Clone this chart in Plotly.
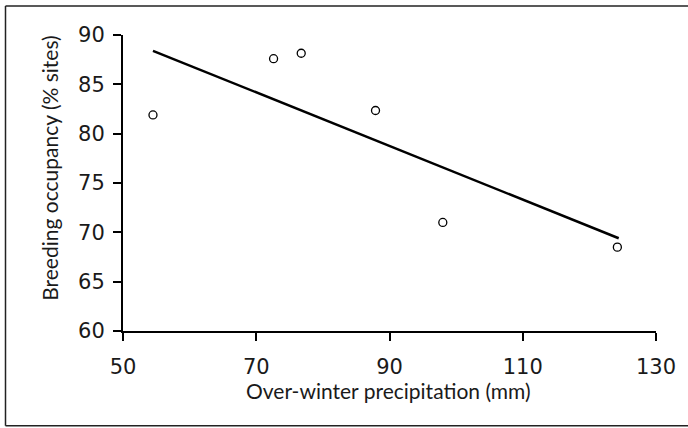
import plotly.graph_objects as go

precip_mm = [54.5, 72.6, 76.75, 87.9, 98.0, 124.2]
occupancy_pct = [81.9, 87.6, 88.15, 82.35, 71.0, 68.5]
fit_x = [54.5, 124.4]
fit_y = [88.4, 69.4]
x_ticks = [50, 70, 90, 110, 130]
y_ticks = [60, 65, 70, 75, 80, 85, 90]

FONT = "Lato"
TICKFONT = "DejaVu Sans"
L, R, T, B = 123, 656, 35, 331.5
W, H = 688, 428

def px(xp):
    return (xp - L) / (R - L)

def py(yp):
    return (B - yp) / (B - T)

fig = go.Figure()
fig.add_trace(go.Scatter(x=fit_x, y=fit_y, mode="lines",
                         line=dict(color="black", width=2.5), showlegend=False))
fig.add_trace(go.Scatter(x=precip_mm, y=occupancy_pct, mode="markers",
                         marker=dict(symbol="circle-open", size=8, color="black",
                                     line=dict(width=1.3, color="black")),
                         showlegend=False))

axis_common = dict(showgrid=False, zeroline=False, showline=True, linecolor="black",
                   linewidth=2, ticks="outside", ticklen=8, tickwidth=2, tickcolor="black",
                   tickfont=dict(size=21, family=TICKFONT, color="#1a1a1a"))

border = dict(color="#222222", width=1.5)
fig.update_layout(
    width=W, height=H,
    margin=dict(l=L, r=W - R, t=T, b=H - B),
    paper_bgcolor="white", plot_bgcolor="white",
    font=dict(family=FONT, color="#1a1a1a"),
    xaxis=dict(range=[50, 130], tickvals=x_ticks, ticktext=[str(v) for v in x_ticks],
               ticklabelstandoff=8, **axis_common),
    yaxis=dict(range=[60, 90], tickvals=y_ticks, ticktext=[str(v) for v in y_ticks],
               ticklabelstandoff=4, **axis_common),
    shapes=[
        dict(type="line", xref="paper", yref="paper", x0=px(5.5), x1=px(5.5),
             y0=py(6), y1=py(426.5), line=border, layer="below"),
        dict(type="line", xref="paper", yref="paper", x0=px(5.5), x1=px(700),
             y0=py(6), y1=py(6), line=border, layer="below"),
        dict(type="line", xref="paper", yref="paper", x0=px(5.5), x1=px(700),
             y0=py(426.5), y1=py(426.5), line=border, layer="below"),
    ],
    annotations=[
        dict(text="Over-winter precipitation (mm)", xref="paper", yref="paper",
             x=px(388), y=py(391), xanchor="center", yanchor="middle",
             showarrow=False, font=dict(size=21, family=FONT, color="#1a1a1a")),
        dict(text="Breeding occupancy (% sites)", xref="paper", yref="paper",
             x=px(50), y=py(169), xanchor="center", yanchor="middle", textangle=-90,
             showarrow=False, font=dict(size=21, family=FONT, color="#1a1a1a")),
    ],
)

fig.write_html("out.html", config={"displayModeBar": False},
               post_script="document.body.style.margin='0';document.body.style.padding='0';")
